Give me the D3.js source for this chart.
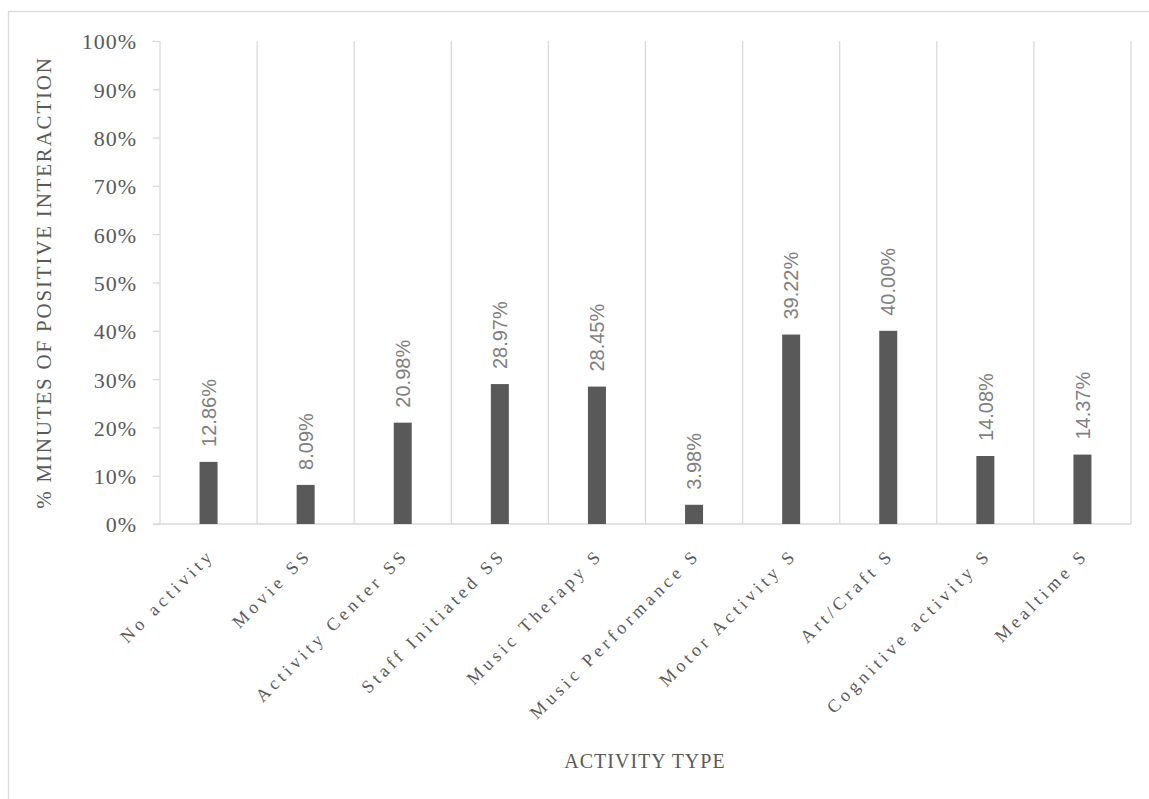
<!DOCTYPE html>
<html>
<head>
<meta charset="utf-8">
<script src="https://cdn.jsdelivr.net/npm/d3@7"></script>
<style>
  html, body { margin: 0; padding: 0; background: #fff; }
  svg { display: block; }
</style>
</head>
<body>
<script>
const categories = ["No activity", "Movie SS", "Activity Center SS", "Staff Initiated SS", "Music Therapy S",
  "Music Performance S", "Motor Activity S", "Art/Craft S", "Cognitive activity S", "Mealtime S"];
const values = [12.86, 8.09, 20.98, 28.97, 28.45, 3.98, 39.22, 40.00, 14.08, 14.37];
const yTicks = [0, 10, 20, 30, 40, 50, 60, 70, 80, 90, 100];
const yTitle = "% MINUTES OF POSITIVE INTERACTION";
const xTitle = "ACTIVITY TYPE";

const W = 1149, H = 799;
const pLeft = 160, pRight = 1131, pTop = 41, pBottom = 524;
const serif = "'Liberation Serif', 'Times New Roman', serif";
const sans = "'Liberation Sans', Arial, sans-serif";
const grid = "#d9d9d9";

const svg = d3.select("body").append("svg").attr("width", W).attr("height", H);

// chart border
svg.append("rect").attr("x", 8.5).attr("y", 11.5).attr("width", 1200).attr("height", 900)
  .attr("fill", "none").attr("stroke", grid).attr("stroke-width", 1.3);

const x = d3.scaleBand().domain(categories).range([pLeft, pRight]).padding(0);
const y = d3.scaleLinear().domain([0, 100]).range([pBottom, pTop]);

// vertical gridlines at category boundaries
const bounds = categories.map(c => x(c) + x.bandwidth());
svg.append("g").selectAll("line").data(bounds).join("line")
  .attr("x1", d => d).attr("x2", d => d).attr("y1", pTop).attr("y2", pBottom)
  .attr("stroke", grid).attr("stroke-width", 1.3);

// y axis
const yAxis = d3.axisLeft(y).tickValues(yTicks).tickSize(7).tickPadding(16).tickFormat(d => d + "%");
const gy = svg.append("g").attr("transform", `translate(${pLeft},0)`).call(yAxis);
gy.select(".domain").attr("stroke", grid).attr("stroke-width", 1.3).attr("d", `M0,${pTop}V${pBottom}`);
gy.selectAll(".tick line").attr("stroke", grid).attr("stroke-width", 1.3);
gy.selectAll(".tick text").attr("font-family", serif).attr("font-size", 22).attr("fill", "#595959")
  .attr("letter-spacing", 1).attr("dy", "0.36em");

// x axis
const xAxis = d3.axisBottom(x).tickSize(0).tickPadding(0);
const gx = svg.append("g").attr("transform", `translate(0,${pBottom})`).call(xAxis);
gx.select(".domain").attr("stroke", grid).attr("stroke-width", 1.3).attr("d", `M${pLeft - 7},0H${pRight}`);
gx.selectAll(".tick text")
  .attr("font-family", serif).attr("font-size", 18).attr("fill", "#595959")
  .attr("letter-spacing", 4.0)
  .attr("text-anchor", "end").attr("dy", 0).attr("y", 0)
  .attr("transform", "translate(7,32) rotate(-45)");

// bars
const barW = 18;
svg.append("g").selectAll("rect").data(values).join("rect")
  .attr("x", (d, i) => x(categories[i]) + x.bandwidth() / 2 - barW / 2)
  .attr("y", d => y(d)).attr("width", barW).attr("height", d => pBottom - y(d))
  .attr("fill", "#595959");

// value labels
svg.append("g").selectAll("text").data(values).join("text")
  .attr("transform", (d, i) => `translate(${x(categories[i]) + x.bandwidth() / 2},${y(d) - 15}) rotate(-90)`)
  .attr("dy", "0.36em")
  .attr("font-family", sans).attr("font-size", 20).attr("fill", "#7f7f7f")
  .text(d => d.toFixed(2) + "%");

// axis titles
svg.append("text").attr("transform", `translate(51,${(pTop + pBottom) / 2}) rotate(-90)`)
  .attr("text-anchor", "middle").attr("font-family", serif).attr("font-size", 21).attr("fill", "#595959")
  .attr("letter-spacing", 1.8)
  .text(yTitle);
svg.append("text").attr("x", 645).attr("y", 768).attr("text-anchor", "middle")
  .attr("font-family", serif).attr("font-size", 20).attr("fill", "#595959")
  .attr("letter-spacing", 1)
  .text(xTitle);
</script>
</body>
</html>
